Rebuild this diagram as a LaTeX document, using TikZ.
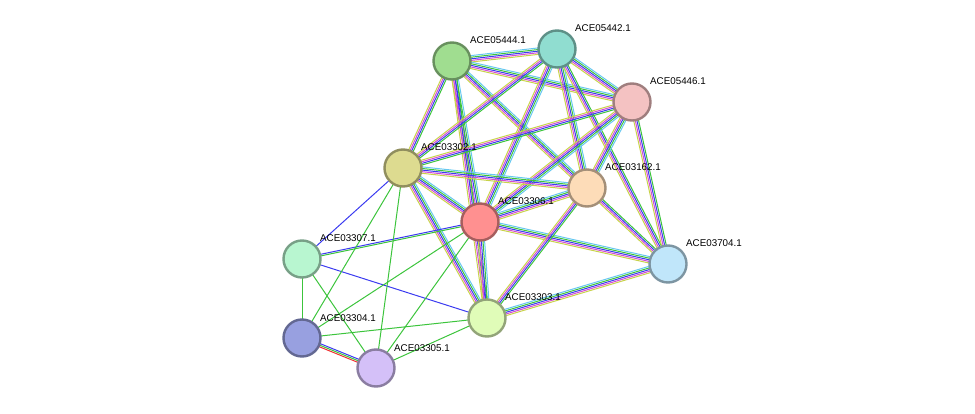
\documentclass[tikz,border=0pt]{standalone}
\usepackage{fontspec}
\setmainfont{Liberation Sans}
\usetikzlibrary{calc,backgrounds}

\definecolor{cTM}{HTML}{C8D24A}
\definecolor{cEX}{HTML}{D44CD4}
\definecolor{cCO}{HTML}{3B3BF0}
\definecolor{cNB}{HTML}{3CC43C}
\definecolor{cDB}{HTML}{66C8F0}
\definecolor{cFU}{HTML}{F03030}

\tikzset{
  prot/.style={circle, minimum size=37pt, inner sep=0pt, line width=2.4pt,
    draw=#1!65!black, fill=#1},
  lbl/.style={anchor=base west, font=\fontsize{9.8}{11}\selectfont, inner sep=0pt},
  ln/.style={line width=1pt}
}
% parallel coloured lines between two nodes
\newcommand\medge[3]{%
  \foreach \c/\o in #3{%
    \draw[ln,\c] ($(#1.center)!\o pt!90:(#2.center)$) -- ($(#2.center)!\o pt!-90:(#1.center)$);}}
\def\five{cTM/-3.2,cEX/-1.6,cCO/0,cNB/1.6,cDB/3.2}
\def\four{cTM/-2.4,cEX/-0.8,cCO/0.8,cNB/2.4}

\begin{document}
\begin{tikzpicture}[x=1pt,y=-1pt]
  \useasboundingbox (0,0) rectangle (975,414);
  \definecolor{g1}{HTML}{A0DD90}\definecolor{g2}{HTML}{90DDD0}
  \definecolor{g3}{HTML}{F4C2C2}\definecolor{g4}{HTML}{DDDB90}
  \definecolor{g5}{HTML}{FDDCB8}\definecolor{g6}{HTML}{FF9090}
  \definecolor{g7}{HTML}{B8F6D0}\definecolor{g8}{HTML}{C0E6FA}
  \definecolor{g9}{HTML}{E0FCB8}\definecolor{g10}{HTML}{98A0E0}
  \definecolor{g11}{HTML}{D4C0F8}
  \node[prot=g1]  (n5444) at (452,61)  {};
  \node[prot=g2]  (n5442) at (557,49)  {};
  \node[prot=g3]  (n5446) at (632,102) {};
  \node[prot=g4]  (n3302) at (403,168) {};
  \node[prot=g5]  (n3162) at (587,188) {};
  \node[prot=g6]  (n3306) at (480,222) {};
  \node[prot=g7]  (n3307) at (302,259) {};
  \node[prot=g8]  (n3704) at (668,264) {};
  \node[prot=g9]  (n3303) at (487,318) {};
  \node[prot=g10] (n3304) at (302,338) {};
  \node[prot=g11] (n3305) at (376,368) {};

  \begin{pgfonlayer}{background}
    \medge{n5444}{n5442}{\five}
    \medge{n5444}{n5446}{\five}
    \medge{n5444}{n3306}{\five}
    \medge{n5444}{n3162}{\five}
    \medge{n5444}{n3302}{\four}
    \medge{n5444}{n3303}{\four}
    \medge{n5442}{n5446}{\five}
    \medge{n5442}{n3306}{\five}
    \medge{n5442}{n3162}{\five}
    \medge{n5442}{n3302}{\four}
    \medge{n5442}{n3704}{\four}
    \medge{n5446}{n3306}{\five}
    \medge{n5446}{n3162}{\five}
    \medge{n5446}{n3302}{\four}
    \medge{n5446}{n3704}{\four}
    \medge{n3302}{n3306}{\five}
    \medge{n3302}{n3162}{\five}
    \medge{n3302}{n3303}{\five}
    \medge{n3306}{n3162}{\five}
    \medge{n3306}{n3303}{\five}
    \medge{n3306}{n3704}{\five}
    \medge{n3162}{n3704}{\four}
    \medge{n3162}{n3303}{\four}
    \medge{n3303}{n3704}{\five}
    \medge{n3307}{n3302}{{cCO/0}}
    \medge{n3307}{n3306}{{cNB/-0.8,cCO/0.8}}
    \medge{n3307}{n3303}{{cCO/0}}
    \medge{n3307}{n3304}{{cNB/0}}
    \medge{n3307}{n3305}{{cNB/0}}
    \medge{n3304}{n3305}{{cFU/-1.6,cNB/0,cCO/1.6}}
    \medge{n3304}{n3306}{{cNB/0}}
    \medge{n3304}{n3303}{{cNB/0}}
    \medge{n3304}{n3302}{{cNB/0}}
    \medge{n3305}{n3302}{{cNB/0}}
    \medge{n3305}{n3306}{{cNB/0}}
    \medge{n3305}{n3303}{{cNB/0}}
  \end{pgfonlayer}

  \node[lbl] (t5444) at ($(n5444.center)+(18,-17)$) {ACE05444.1};
  \node[lbl] (t5442) at ($(n5442.center)+(18,-17)$) {ACE05442.1};
  \node[lbl] (t5446) at ($(n5446.center)+(18,-17)$) {ACE05446.1};
  \node[lbl] (t3302) at ($(n3302.center)+(18,-17)$) {ACE03302.1};
  \node[lbl] (t3162) at ($(n3162.center)+(18,-17)$) {ACE03162.1};
  \node[lbl] (t3306) at ($(n3306.center)+(18,-17)$) {ACE03306.1};
  \node[lbl] (t3307) at ($(n3307.center)+(18,-17)$) {ACE03307.1};
  \node[lbl] (t3704) at ($(n3704.center)+(18,-17)$) {ACE03704.1};
  \node[lbl] (t3303) at ($(n3303.center)+(18,-17)$) {ACE03303.1};
  \node[lbl] (t3304) at ($(n3304.center)+(18,-17)$) {ACE03304.1};
  \node[lbl] (t3305) at ($(n3305.center)+(18,-17)$) {ACE03305.1};
\end{tikzpicture}
\end{document}
